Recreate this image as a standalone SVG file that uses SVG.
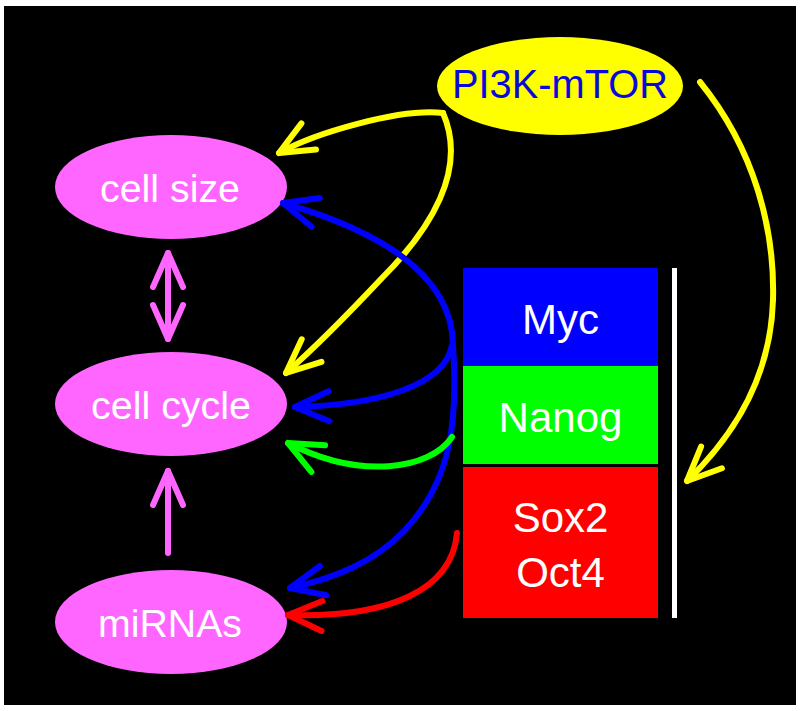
<svg xmlns="http://www.w3.org/2000/svg" width="800" height="711" viewBox="0 0 800 711">
<style>
.t{font-family:"Liberation Sans",Arial,Helvetica,sans-serif;fill:#ffffff;text-anchor:middle}
.c{fill:none;stroke-width:6;stroke-linecap:round;stroke-linejoin:round}
.pink{fill:#ff66ff}
</style>
<defs>
<marker id="ay" viewBox="-40 -20 45 40" markerWidth="45" markerHeight="40" refX="0" refY="0" orient="auto-start-reverse" markerUnits="userSpaceOnUse"><path d="M-34,-15 L0,0 L-34,15" fill="none" stroke="#ffff00" stroke-width="6" stroke-linecap="round" stroke-linejoin="round"/></marker>
<marker id="ab" viewBox="-40 -20 45 40" markerWidth="45" markerHeight="40" refX="0" refY="0" orient="auto-start-reverse" markerUnits="userSpaceOnUse"><path d="M-34,-15 L0,0 L-34,15" fill="none" stroke="#0000ff" stroke-width="6" stroke-linecap="round" stroke-linejoin="round"/></marker>
<marker id="ag" viewBox="-40 -20 45 40" markerWidth="45" markerHeight="40" refX="0" refY="0" orient="auto-start-reverse" markerUnits="userSpaceOnUse"><path d="M-34,-15 L0,0 L-34,15" fill="none" stroke="#00ff00" stroke-width="6" stroke-linecap="round" stroke-linejoin="round"/></marker>
<marker id="ar" viewBox="-40 -20 45 40" markerWidth="45" markerHeight="40" refX="0" refY="0" orient="auto-start-reverse" markerUnits="userSpaceOnUse"><path d="M-34,-15 L0,0 L-34,15" fill="none" stroke="#ff0000" stroke-width="6" stroke-linecap="round" stroke-linejoin="round"/></marker>
<marker id="ap" viewBox="-40 -20 45 40" markerWidth="45" markerHeight="40" refX="0" refY="0" orient="auto-start-reverse" markerUnits="userSpaceOnUse"><path d="M-34,-15 L0,0 L-34,15" fill="none" stroke="#ff66ff" stroke-width="6" stroke-linecap="round" stroke-linejoin="round"/></marker>
</defs>
<rect x="0" y="0" width="800" height="711" fill="#ffffff"/>
<rect x="4" y="6" width="792" height="699" fill="#000000"/>

<g id="pi3k">
<ellipse cx="560" cy="86" rx="123" ry="49" fill="#ffff00"/>
<text class="t" x="560" y="98" font-size="40" style="fill:#0a0ad8" textLength="216" lengthAdjust="spacingAndGlyphs">PI3K-mTOR</text>
</g>
<g id="cellsize">
<ellipse class="pink" cx="171" cy="187" rx="116" ry="52"/>
<text class="t" x="170" y="202" font-size="38" textLength="140" lengthAdjust="spacingAndGlyphs">cell size</text>
</g>
<g id="cellcycle">
<ellipse class="pink" cx="171" cy="404" rx="116" ry="52"/>
<text class="t" x="171" y="419" font-size="38" textLength="160" lengthAdjust="spacingAndGlyphs">cell cycle</text>
</g>
<g id="mirnas">
<ellipse class="pink" cx="171" cy="622" rx="116" ry="52"/>
<text class="t" x="170" y="637" font-size="38" textLength="144" lengthAdjust="spacingAndGlyphs">miRNAs</text>
</g>
<g id="myc">
<rect x="463" y="268" width="195" height="98" fill="#0000ff"/>
<text class="t" x="560.5" y="334" font-size="42">Myc</text>
</g>
<g id="nanog">
<rect x="463" y="366" width="195" height="98" fill="#00ff00"/>
<text class="t" x="560.5" y="432" font-size="42">Nanog</text>
</g>
<g id="sox2oct4">
<rect x="463" y="467" width="195" height="151" fill="#ff0000"/>
<text class="t" x="560.5" y="532" font-size="42">Sox2</text>
<text class="t" x="560.5" y="587" font-size="42">Oct4</text>
</g>
<g id="bracket">
<rect x="672" y="268" width="5" height="350" fill="#ffffff"/>
</g>

<g id="connectors">
<path class="c" stroke="#ffff00" d="M443,113 C400,108 315,133 279,153" marker-end="url(#ay)"/>
<path class="c" stroke="#ffff00" d="M443,113 C468,170 430,230 382,278 C350,312 318,345 286,373" marker-end="url(#ay)"/>
<path class="c" stroke="#ffff00" d="M700,82 C755,150 775,230 773,300 C771,370 740,430 687,481" marker-end="url(#ay)"/>
<path class="c" stroke="#0000ff" d="M283,203 C370,228 452,270 453,345 C458,420 452,480 405,530 C375,562 335,578 290,588" marker-start="url(#ab)" marker-end="url(#ab)"/>
<path class="c" stroke="#0000ff" d="M452,345 C445,385 380,405 295,407" marker-end="url(#ab)"/>
<path class="c" stroke="#00ff00" d="M452,437 C430,470 360,480 288,443" marker-end="url(#ag)"/>
<path class="c" stroke="#ff0000" d="M457,533 C452,590 390,618 288,615" marker-end="url(#ar)"/>
<path class="c" stroke="#ff66ff" d="M168,253 L168,339" marker-start="url(#ap)" marker-end="url(#ap)"/>
<path class="c" stroke="#ff66ff" d="M168,553 L168,471" marker-end="url(#ap)"/>
</g>
</svg>
